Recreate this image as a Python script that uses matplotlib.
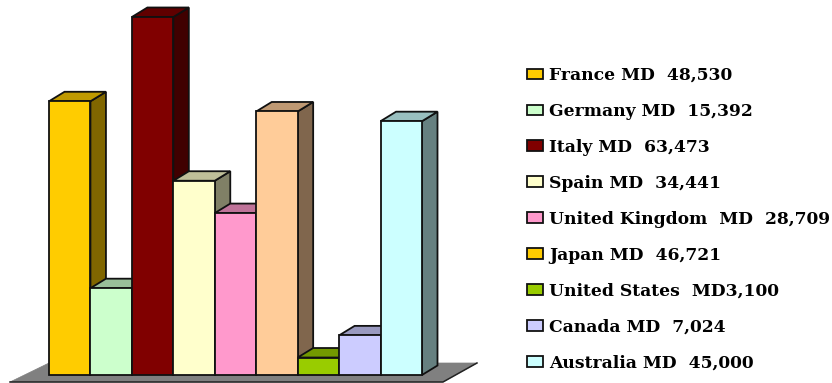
import matplotlib
matplotlib.use('Agg')
import matplotlib.pyplot as plt
from matplotlib.colors import to_rgb
from matplotlib.patches import Polygon, Rectangle

WIDTH, HEIGHT = 832, 383

countries = ['France', 'Germany', 'Italy', 'Spain', 'United Kingdom',
             'Japan', 'United States', 'Canada', 'Australia']
values = [48530, 15392, 63473, 34441, 28709, 46721, 3100, 7024, 45000]
bar_colors = ['#FFCC00', '#CCFFCC', '#800000', '#FFFFCC', '#FF99CC',
              '#FFCC99', '#99CC00', '#CCCCFF', '#CCFFFF']
legend_colors = ['#FFCC00', '#CCFFCC', '#800000', '#FFFFCC', '#FF99CC',
                 '#FFCC00', '#99CC00', '#CCCCFF', '#CCFFFF']
legend_labels = ['France MD  48,530', 'Germany MD  15,392', 'Italy MD  63,473',
                 'Spain MD  34,441', 'United Kingdom  MD  28,709', 'Japan MD  46,721',
                 'United States  MD3,100', 'Canada MD  7,024', 'Australia MD  45,000']

# pixel sizes of the fake 3d look, turned into data units below
X_UNIT = (422 - 49) / len(values)
Y_UNIT = (375 - 17) / max(values)
DEPTH_X = 15.5 / X_UNIT
DEPTH_Y = 9.5 / Y_UNIT
EDGE = '#111111'


def shade(color, amount):
    return tuple(c * amount for c in to_rgb(color))


def draw_floor(ax):
    left, right = -39 / X_UNIT, len(values) + 55 / X_UNIT
    low, high = -7 / Y_UNIT, 12 / Y_UNIT
    ax.add_patch(Polygon([(left, low), (0, high), (right, high), (right - 34 / X_UNIT, low)],
                         fc='#808080', ec='#808080', lw=0.5, clip_on=False, zorder=1))
    ax.plot([left, right - 34 / X_UNIT, right], [low, low, high], color='#222222',
            lw=1.1, clip_on=False, zorder=1)


def draw_bar(ax, i, value, color):
    # top and side first, the front goes over them
    top = [(i, value), (i + 1, value), (i + 1 + DEPTH_X, value + DEPTH_Y), (i + DEPTH_X, value + DEPTH_Y)]
    side = [(i + 1, 0), (i + 1 + DEPTH_X, DEPTH_Y), (i + 1 + DEPTH_X, value + DEPTH_Y), (i + 1, value)]
    z = 2 + i
    ax.add_patch(Polygon(side, fc=shade(color, 0.5), ec=EDGE, lw=1.3, clip_on=False, zorder=z))
    ax.add_patch(Polygon(top, fc=shade(color, 0.75), ec=EDGE, lw=1.3, clip_on=False, zorder=z))
    ax.add_patch(Rectangle((i, 0), 1, value, fc=color, ec=EDGE, lw=1.3, clip_on=False, zorder=z))


def main():
    fig = plt.figure(figsize=(WIDTH / 100, HEIGHT / 100), dpi=100)
    ax = fig.add_axes([49 / WIDTH, 1 - 375 / HEIGHT, (422 - 49) / WIDTH, (375 - 17) / HEIGHT])
    ax.set_xlim(0, len(values))
    ax.set_ylim(0, max(values))
    ax.axis('off')

    draw_floor(ax)
    for i, (value, color) in enumerate(zip(values, bar_colors)):
        draw_bar(ax, i, value, color)

    handles = [Rectangle((0, 0), 1, 1, fc=c, ec=EDGE, lw=1.3) for c in legend_colors]
    fig.legend(handles, legend_labels, loc='upper left', bbox_to_anchor=(527 / WIDTH, 1 - 67 / HEIGHT),
               frameon=False, labelspacing=1.107, handlelength=0.94, handleheight=0.585,
               handletextpad=0.35, borderaxespad=0, borderpad=0,
               prop={'family': 'DejaVu Serif', 'weight': 'bold', 'size': 12.3})

    fig.savefig('out.png', dpi=100)


if __name__ == '__main__':
    main()
